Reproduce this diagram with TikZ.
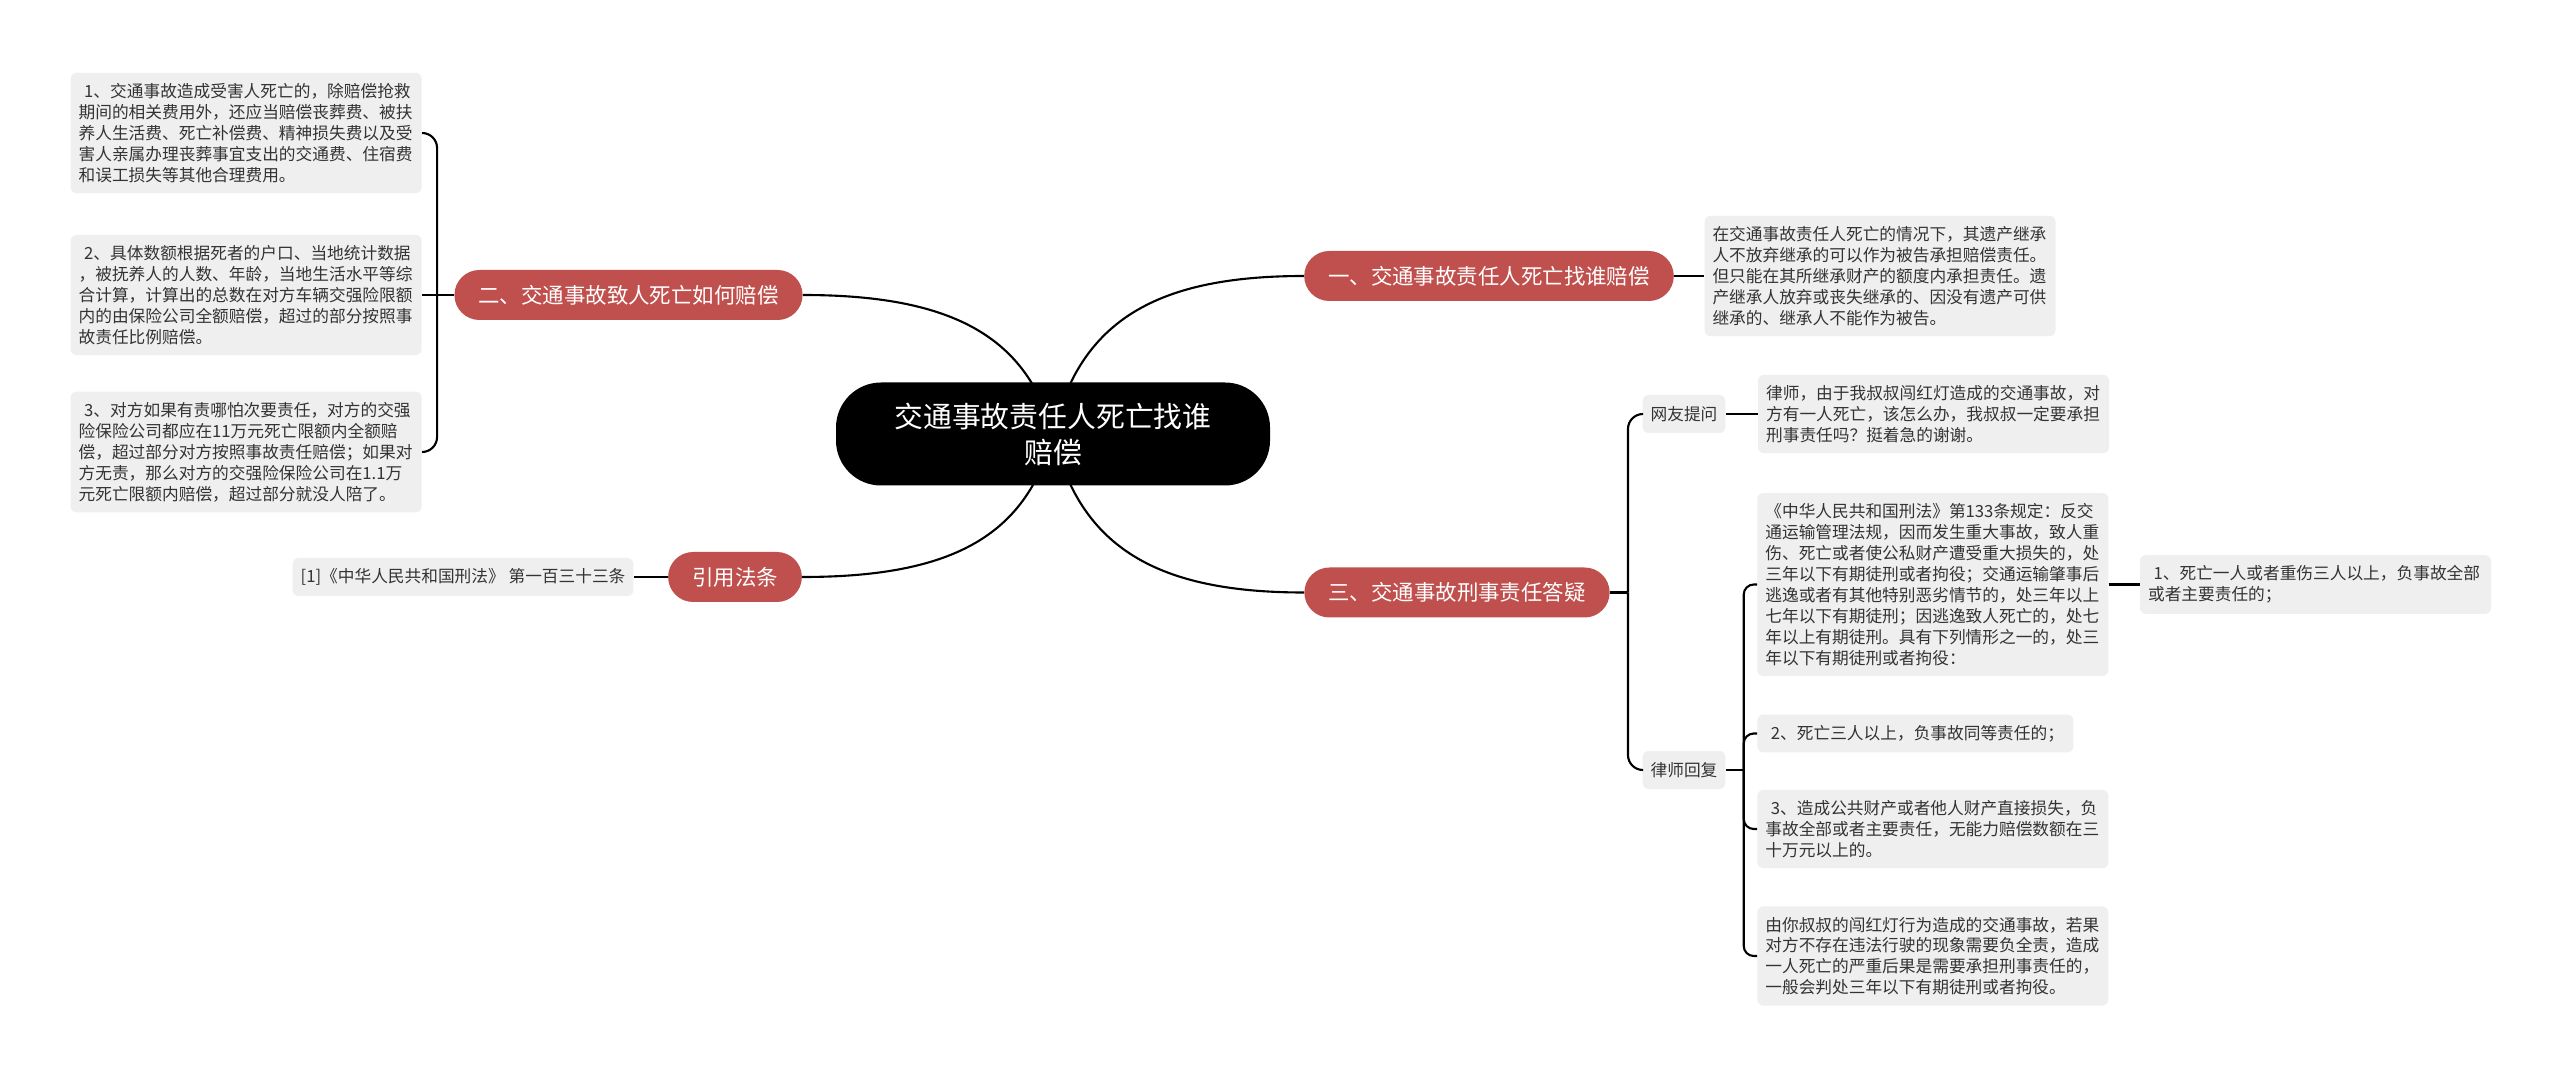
\documentclass[tikz,border=0pt]{standalone}
\usepackage{fontspec}
\setmainfont{Noto Sans CJK SC}
\usepackage{tikz}
\usetikzlibrary{positioning,backgrounds}
\definecolor{mapred}{RGB}{192,80,77}
\definecolor{leafgray}{RGB}{239,239,239}
\definecolor{leaftext}{RGB}{51,51,51}
\tikzset{
    maproot/.style={fill=black, text=white, rounded corners=0.9cm, align=center, font=\fontsize{16.4pt}{20.5pt}\selectfont, minimum width=8.68cm, minimum height=2.06cm},
    mapbranch/.style={fill=mapred, text=white, rounded corners=0.5cm, font=\fontsize{12.2pt}{14pt}\selectfont, minimum height=1.0cm, inner xsep=0.48cm},
    mapleaf/.style={fill=leafgray, text=leaftext, rounded corners=0.12cm, align=left, font=\fontsize{9.5pt}{11.9pt}\selectfont, text width=6.7cm, inner xsep=0.16cm, inner ysep=0.21cm},
    maptag/.style={fill=leafgray, text=leaftext, rounded corners=0.12cm, font=\fontsize{9.5pt}{11.9pt}\selectfont, minimum height=0.76cm, inner xsep=0.16cm},
    mapline/.style={line width=1.2pt, black}
}

\begin{document}
\begin{tikzpicture}
    \useasboundingbox (0,0) rectangle (51.2,21.58);

    \node[maproot] (root) at (21.06,12.90) {交通事故责任人死亡找谁\\赔偿};

    \node[mapbranch] (b1) at (29.78,16.06) {一、交通事故责任人死亡找谁赔偿};
    \node[mapbranch] (b2) at (12.57,15.68) {二、交通事故致人死亡如何赔偿};
    \node[mapbranch] (b3) at (14.70,10.04) {引用法条};
    \node[mapbranch] (b4) at (29.14,9.73) {三、交通事故刑事责任答疑};

    % branch one
    \node[mapleaf, right=0.6cm of b1] (leaf1) {在交通事故责任人死亡的情况下，其遗产继承\\人不放弃继承的可以作为被告承担赔偿责任。\\但只能在其所继承财产的额度内承担责任。遗\\产继承人放弃或丧失继承的、因没有遗产可供\\继承的、继承人不能作为被告。};

    % branch two
    \node[mapleaf, anchor=east] (l21) at (8.44,18.92) {~1、交通事故造成受害人死亡的，除赔偿抢救\\期间的相关费用外，还应当赔偿丧葬费、被扶\\养人生活费、死亡补偿费、精神损失费以及受\\害人亲属办理丧葬事宜支出的交通费、住宿费\\和误工损失等其他合理费用。};
    \node[mapleaf, anchor=east] (l22) at (8.44,15.68) {~2、具体数额根据死者的户口、当地统计数据\\，被抚养人的人数、年龄，当地生活水平等综\\合计算，计算出的总数在对方车辆交强险限额\\内的由保险公司全额赔偿，超过的部分按照事\\故责任比例赔偿。};
    \node[mapleaf, anchor=east] (l23) at (8.44,12.54) {~3、对方如果有责哪怕次要责任，对方的交强\\险保险公司都应在11万元死亡限额内全额赔\\偿，超过部分对方按照事故责任赔偿；如果对\\方无责，那么对方的交强险保险公司在1.1万\\元死亡限额内赔偿，超过部分就没人陪了。};

    % cited law
    \node[maptag, left=0.68cm of b3] (ref) {[1]《中华人民共和国刑法》 第一百三十三条};

    % branch three
    \node[maptag] (q) at (33.68,13.30) {网友提问};
    \node[maptag] (a) at (33.68,6.18) {律师回复};
    \node[mapleaf, right=0.64cm of q] (qleaf) {律师，由于我叔叔闯红灯造成的交通事故，对\\方有一人死亡，该怎么办，我叔叔一定要承担\\刑事责任吗？挺着急的谢谢。};
    \node[mapleaf, anchor=west] (a1) at (35.14,9.89) {《中华人民共和国刑法》第133条规定：反交\\通运输管理法规，因而发生重大事故，致人重\\伤、死亡或者使公私财产遭受重大损失的，处\\三年以下有期徒刑或者拘役；交通运输肇事后\\逃逸或者有其他特别恶劣情节的，处三年以上\\七年以下有期徒刑；因逃逸致人死亡的，处七\\年以上有期徒刑。具有下列情形之一的，处三\\年以下有期徒刑或者拘役：};
    \node[mapleaf, right=0.62cm of a1] (a1child) {~1、死亡一人或者重伤三人以上，负事故全部\\或者主要责任的；};
    \node[mapleaf, anchor=west, text width=6.0cm] (a2) at (35.14,6.91) {~2、死亡三人以上，负事故同等责任的；};
    \node[mapleaf, anchor=west] (a3) at (35.14,5.00) {~3、造成公共财产或者他人财产直接损失，负\\事故全部或者主要责任，无能力赔偿数额在三\\十万元以上的。};
    \node[mapleaf, anchor=west] (a4) at (35.14,2.46) {由你叔叔的闯红灯行为造成的交通事故，若果\\对方不存在违法行驶的现象需要负全责，造成\\一人死亡的严重后果是需要承担刑事责任的，\\一般会判处三年以下有期徒刑或者拘役。};

    \coordinate (j2) at ([xshift=-0.34cm]b2.west);
    \coordinate (j3) at ([xshift=0.36cm]b4.east);
    \coordinate (j4) at ([xshift=0.36cm]a.east);

    % curves out of the root, under it
    \begin{pgfonlayer}{background}
        \fill[white] (0,0) rectangle (51.2,21.58);
        \draw[mapline] (root.center) .. controls +(0.54,2.3) and +(-2.9,0) .. (b1.west);
        \draw[mapline] (root.center) .. controls +(-0.54,2.0) and +(2.9,0) .. (b2.east);
        \draw[mapline] (root.center) .. controls +(-0.54,-2.1) and +(2.9,0) .. (b3.east);
        \draw[mapline] (root.center) .. controls +(0.54,-2.3) and +(-2.9,0) .. (b4.west);
    \end{pgfonlayer}

    \draw[mapline] (b1.east) -- (leaf1.west);
    \draw[mapline] (b2.west) -- (l22.east);
    \draw[mapline, rounded corners=0.3cm] (j2) |- (l21.east);
    \draw[mapline, rounded corners=0.3cm] (j2) |- (l23.east);
    \draw[mapline] (b3.west) -- (ref.east);
    \draw[mapline] (b4.east) -- (j3);
    \draw[mapline, rounded corners=0.3cm] (j3) |- (q.west);
    \draw[mapline, rounded corners=0.3cm] (j3) |- (a.west);
    \draw[mapline] (q.east) -- (qleaf.west);
    \draw[mapline] (a.east) -- (j4);
    \draw[mapline, rounded corners=0.2cm] (j4) |- (a1.west);
    \draw[mapline, rounded corners=0.2cm] (j4) |- (a2.west);
    \draw[mapline, rounded corners=0.2cm] (j4) |- (a3.west);
    \draw[mapline, rounded corners=0.2cm] (j4) |- (a4.west);
    \draw[mapline] (a1.east) -- (a1child.west);
\end{tikzpicture}
\end{document}
